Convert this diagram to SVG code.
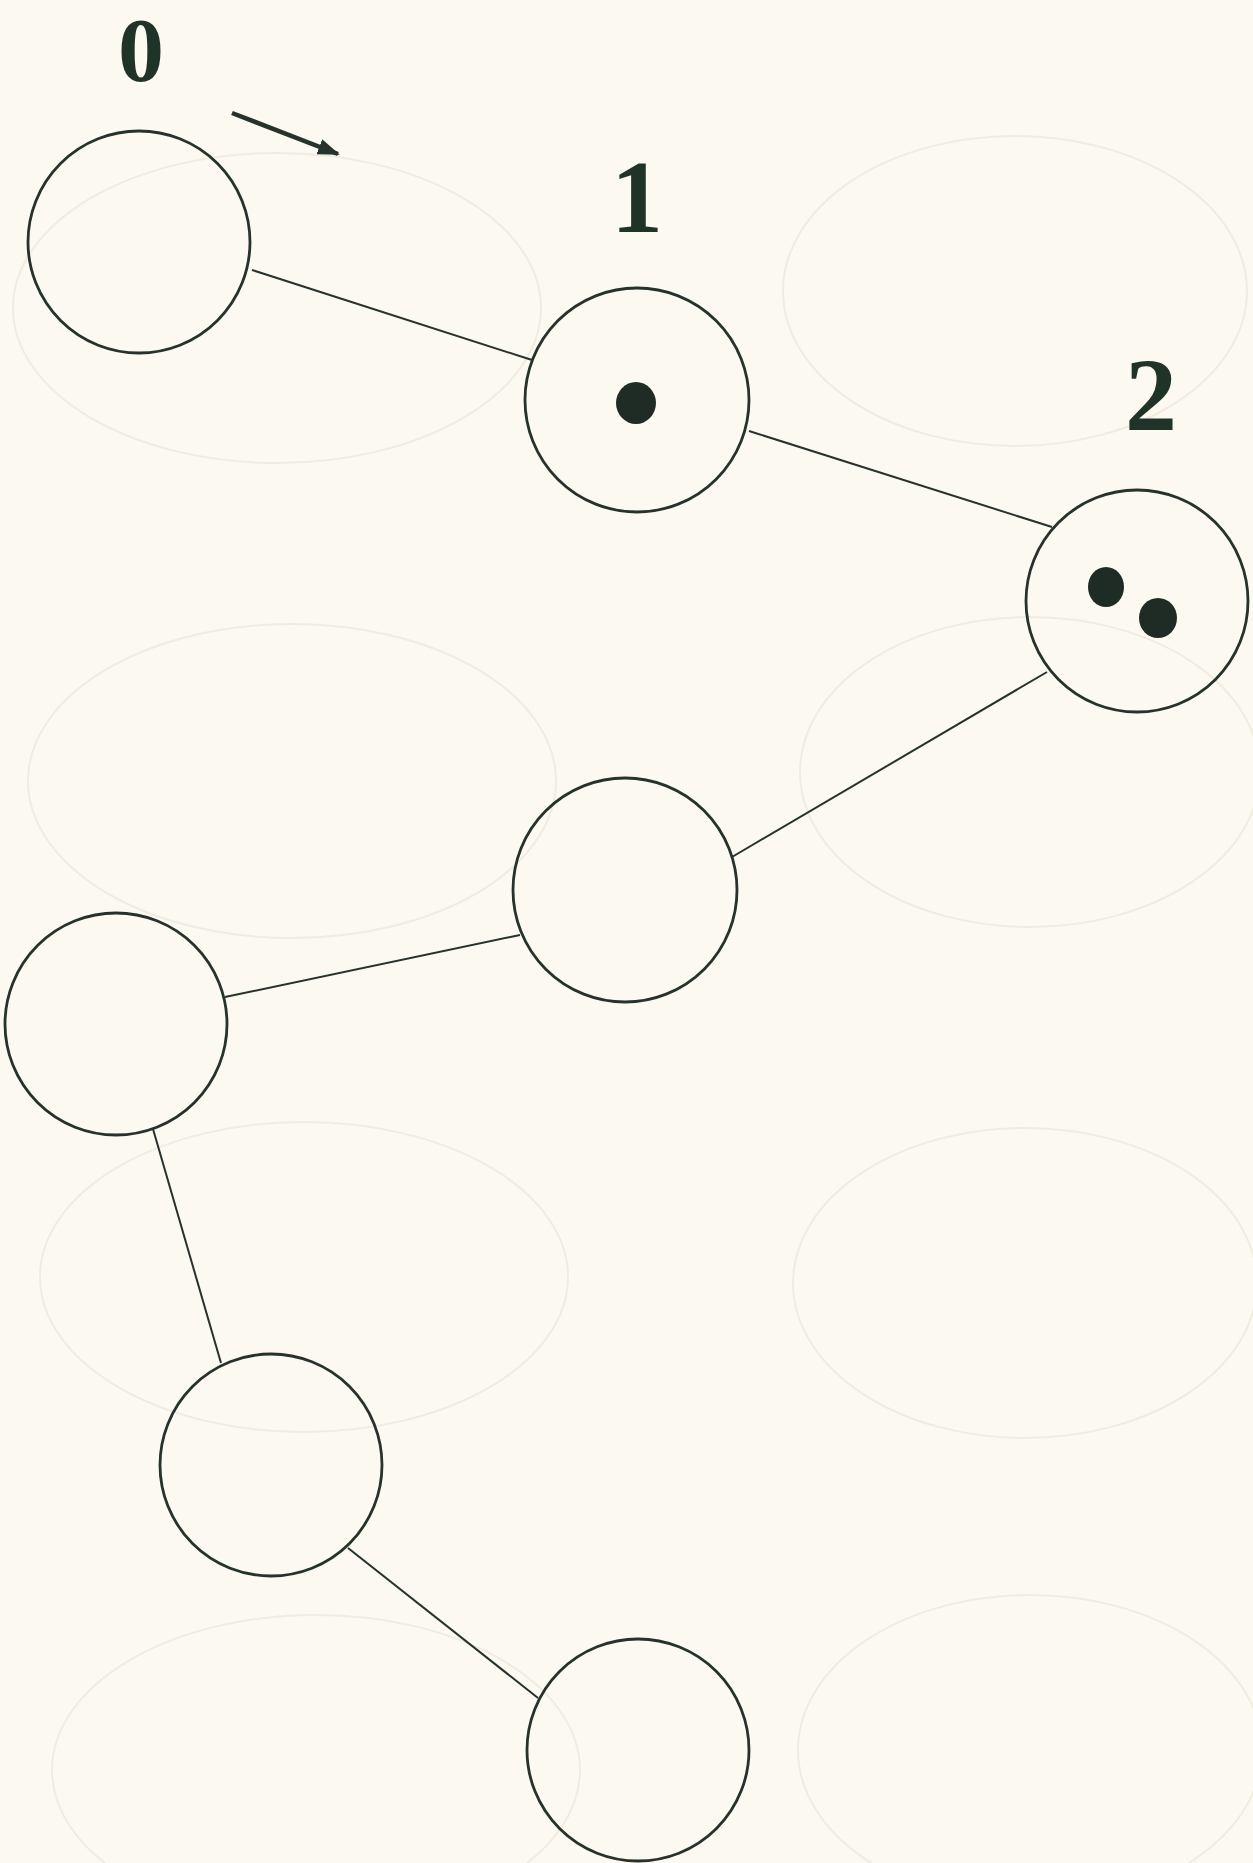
<svg xmlns="http://www.w3.org/2000/svg" width="1253" height="1863" viewBox="0 0 1253 1863">
<style>
.bg{fill:#fcf9f0}
.ghost{fill:none;stroke:#f0ece0;stroke-width:2}
.node{fill:none;stroke:#26322c;stroke-width:2.8}
.edge{stroke:#26322c;stroke-width:2;fill:none}
.dot{fill:#1f2c26}
.lbl{font-family:"Liberation Serif","Times New Roman",serif;font-weight:bold;font-size:104px;fill:#1f3329;text-anchor:middle}
</style>
<defs>
<marker id="ahb" markerWidth="22" markerHeight="16" refX="20" refY="8" orient="auto" markerUnits="userSpaceOnUse" viewBox="0 0 22 16">
<path d="M0,0 L22,8 L0,16 Z" fill="#26322c"/>
</marker>
</defs>
<rect class="bg" x="0" y="0" width="1253" height="1863"/>
<g id="background">
<ellipse class="ghost" cx="277" cy="308" rx="264" ry="155"/>
<ellipse class="ghost" cx="1015" cy="291" rx="232" ry="155"/>
<ellipse class="ghost" cx="292" cy="781" rx="264" ry="157"/>
<ellipse class="ghost" cx="1030" cy="772" rx="230" ry="155"/>
<ellipse class="ghost" cx="304" cy="1277" rx="264" ry="155"/>
<ellipse class="ghost" cx="1025" cy="1283" rx="232" ry="155"/>
<ellipse class="ghost" cx="316" cy="1770" rx="264" ry="155"/>
<ellipse class="ghost" cx="1030" cy="1750" rx="232" ry="155"/>
</g>
<g id="connectors">
<line class="edge" x1="252" y1="270" x2="532" y2="360"/>
<line class="edge" x1="749" y1="431" x2="1052" y2="527"/>
<line class="edge" x1="1047" y1="672" x2="732" y2="857"/>
<line class="edge" x1="520" y1="935" x2="225" y2="997"/>
<line class="edge" x1="153" y1="1129" x2="221" y2="1363"/>
<line class="edge" x1="348" y1="1548" x2="538" y2="1698"/>
<line id="start-arrow" x1="232" y1="113" x2="338" y2="154" stroke="#26322c" stroke-width="4.5" marker-end="url(#ahb)"/>
</g>
<g id="node0">
<circle class="node" cx="139" cy="242" r="111"/>
<text class="lbl" x="141" y="81" style="font-size:92px">0</text>
</g>
<g id="node1">
<circle class="node" cx="637" cy="400" r="112"/>
<ellipse class="dot" cx="636" cy="403" rx="20" ry="21"/>
<text class="lbl" x="637" y="232">1</text>
</g>
<g id="node2">
<circle class="node" cx="1137" cy="601" r="111"/>
<ellipse class="dot" cx="1106" cy="587" rx="18" ry="20"/>
<ellipse class="dot" cx="1158" cy="618" rx="19" ry="20"/>
<text class="lbl" x="1151" y="430">2</text>
</g>
<g id="node3">
<circle class="node" cx="625" cy="890" r="112"/>
</g>
<g id="node4">
<circle class="node" cx="116" cy="1024" r="111"/>
</g>
<g id="node5">
<circle class="node" cx="271" cy="1465" r="111"/>
</g>
<g id="node6">
<circle class="node" cx="638" cy="1750" r="111"/>
</g>
</svg>
